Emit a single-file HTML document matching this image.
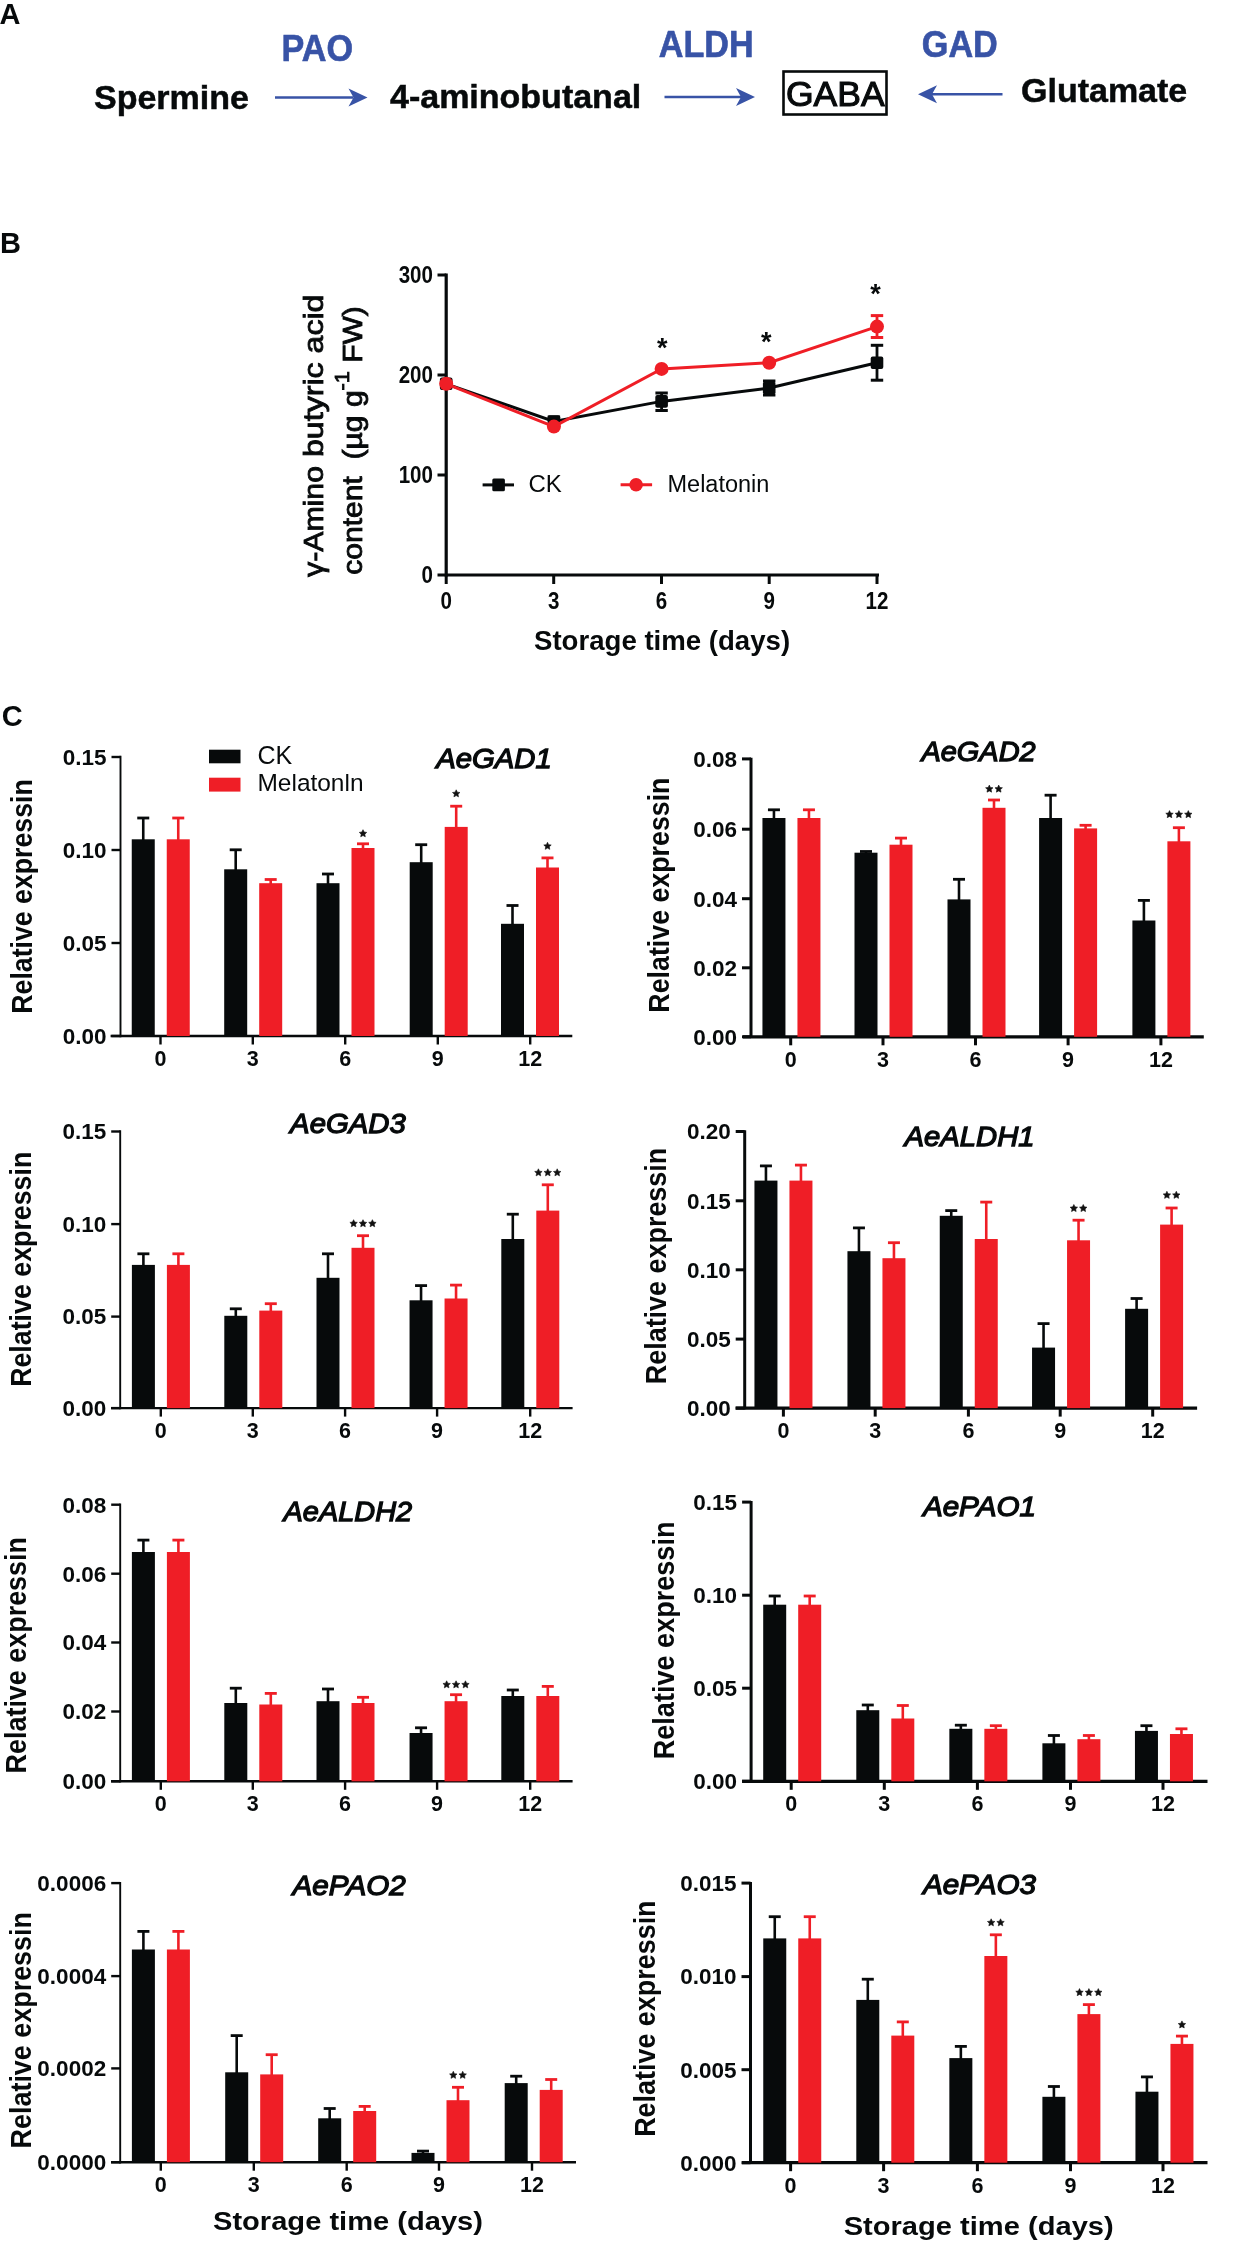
<!DOCTYPE html>
<html><head><meta charset="utf-8"><style>
html,body{margin:0;padding:0;background:#fff;}
svg{display:block;}
#wrap{will-change:transform;width:1238px;height:2242px;}
</style></head><body><div id="wrap">
<svg width="1238" height="2242" viewBox="0 0 1238 2242">
<rect width="1238" height="2242" fill="#fff"/>
<text x="-0.5" y="24" font-family='"Liberation Sans", sans-serif' font-size="29" font-weight="bold" font-style="normal" text-anchor="start" fill="#070a0b" >A</text>
<text x="94" y="109" font-family='"Liberation Sans", sans-serif' font-size="34" font-weight="bold" font-style="normal" text-anchor="start" fill="#070a0b" stroke="#070a0b" stroke-width="0.5">Spermine</text>
<text x="390" y="108" font-family='"Liberation Sans", sans-serif' font-size="34" font-weight="bold" font-style="normal" text-anchor="start" fill="#070a0b" stroke="#070a0b" stroke-width="0.5">4-aminobutanal</text>
<text x="1021" y="102" font-family='"Liberation Sans", sans-serif' font-size="34" font-weight="bold" font-style="normal" text-anchor="start" fill="#070a0b" stroke="#070a0b" stroke-width="0.5">Glutamate</text>
<g transform="translate(281.5 60.5) scale(1 1.09)"><text x="0" y="0" font-family='"Liberation Sans", sans-serif' font-size="34" font-weight="bold" fill="#3853a6" stroke="#3853a6" stroke-width="0.6" textLength="71.5" lengthAdjust="spacingAndGlyphs">PAO</text></g>
<g transform="translate(658.8 57) scale(1 1.09)"><text x="0" y="0" font-family='"Liberation Sans", sans-serif' font-size="34" font-weight="bold" fill="#3853a6" stroke="#3853a6" stroke-width="0.6" textLength="94.8" lengthAdjust="spacingAndGlyphs">ALDH</text></g>
<g transform="translate(921.8 56.8) scale(1 1.09)"><text x="0" y="0" font-family='"Liberation Sans", sans-serif' font-size="34" font-weight="bold" fill="#3853a6" stroke="#3853a6" stroke-width="0.6" textLength="76" lengthAdjust="spacingAndGlyphs">GAD</text></g>
<line x1="275" y1="97.5" x2="353.5" y2="97.5" stroke="#3853a6" stroke-width="2.6" stroke-linecap="butt"/>
<path d="M367.5,97.5 L348.5,88.5 L353.5,97.5 L348.5,106.5 Z" fill="#3853a6"/>
<line x1="664.5" y1="97" x2="741" y2="97" stroke="#3853a6" stroke-width="2.6" stroke-linecap="butt"/>
<path d="M755,97 L736,88 L741,97 L736,106 Z" fill="#3853a6"/>
<line x1="932" y1="94.3" x2="1002.5" y2="94.3" stroke="#3853a6" stroke-width="2.6" stroke-linecap="butt"/>
<path d="M918,94.3 L937,85.3 L932,94.3 L937,103.3 Z" fill="#3853a6"/>
<rect x="783.5" y="71.5" width="103" height="43" fill="none" stroke="#070a0b" stroke-width="2.6"/>
<text x="786" y="105.5" font-family='"Liberation Sans", sans-serif' font-size="35.5" font-weight="normal" font-style="normal" text-anchor="start" fill="#070a0b" stroke="#070a0b" stroke-width="1.1">GABA</text>
<text x="0" y="253" font-family='"Liberation Sans", sans-serif' font-size="29" font-weight="bold" font-style="normal" text-anchor="start" fill="#070a0b" >B</text>
<line x1="446.2" y1="273.5" x2="446.2" y2="576.6" stroke="#070a0b" stroke-width="3.2" stroke-linecap="butt"/>
<line x1="437.5" y1="275" x2="446.2" y2="275" stroke="#070a0b" stroke-width="3" stroke-linecap="butt"/>
<line x1="437.5" y1="375" x2="446.2" y2="375" stroke="#070a0b" stroke-width="3" stroke-linecap="butt"/>
<line x1="437.5" y1="475" x2="446.2" y2="475" stroke="#070a0b" stroke-width="3" stroke-linecap="butt"/>
<line x1="437.5" y1="575" x2="879" y2="575" stroke="#070a0b" stroke-width="3.2" stroke-linecap="butt"/>
<line x1="446.2" y1="575" x2="446.2" y2="584" stroke="#070a0b" stroke-width="3" stroke-linecap="butt"/>
<line x1="553.7" y1="575" x2="553.7" y2="584" stroke="#070a0b" stroke-width="3" stroke-linecap="butt"/>
<line x1="661.5" y1="575" x2="661.5" y2="584" stroke="#070a0b" stroke-width="3" stroke-linecap="butt"/>
<line x1="769.2" y1="575" x2="769.2" y2="584" stroke="#070a0b" stroke-width="3" stroke-linecap="butt"/>
<line x1="877" y1="575" x2="877" y2="584" stroke="#070a0b" stroke-width="3" stroke-linecap="butt"/>
<text x="433" y="283.5" font-family='"Liberation Sans", sans-serif' font-size="24.5" font-weight="bold" text-anchor="end" fill="#070a0b" transform="translate(433 0) scale(0.84 1) translate(-433 0)">300</text>
<text x="433" y="383.5" font-family='"Liberation Sans", sans-serif' font-size="24.5" font-weight="bold" text-anchor="end" fill="#070a0b" transform="translate(433 0) scale(0.84 1) translate(-433 0)">200</text>
<text x="433" y="483.5" font-family='"Liberation Sans", sans-serif' font-size="24.5" font-weight="bold" text-anchor="end" fill="#070a0b" transform="translate(433 0) scale(0.84 1) translate(-433 0)">100</text>
<text x="433" y="583.5" font-family='"Liberation Sans", sans-serif' font-size="24.5" font-weight="bold" text-anchor="end" fill="#070a0b" transform="translate(433 0) scale(0.84 1) translate(-433 0)">0</text>
<g transform="translate(446.2 608.6) scale(0.84 1)"><text x="0" y="0" font-family='"Liberation Sans", sans-serif' font-size="24.5" font-weight="bold" text-anchor="middle" fill="#070a0b">0</text></g>
<g transform="translate(553.7 608.6) scale(0.84 1)"><text x="0" y="0" font-family='"Liberation Sans", sans-serif' font-size="24.5" font-weight="bold" text-anchor="middle" fill="#070a0b">3</text></g>
<g transform="translate(661.5 608.6) scale(0.84 1)"><text x="0" y="0" font-family='"Liberation Sans", sans-serif' font-size="24.5" font-weight="bold" text-anchor="middle" fill="#070a0b">6</text></g>
<g transform="translate(769.2 608.6) scale(0.84 1)"><text x="0" y="0" font-family='"Liberation Sans", sans-serif' font-size="24.5" font-weight="bold" text-anchor="middle" fill="#070a0b">9</text></g>
<g transform="translate(877 608.6) scale(0.84 1)"><text x="0" y="0" font-family='"Liberation Sans", sans-serif' font-size="24.5" font-weight="bold" text-anchor="middle" fill="#070a0b">12</text></g>
<polyline points="446.2,383.8 553.9,421.5 661.6,401.4 769.2,388 877,362.7" fill="none" stroke="#070a0b" stroke-width="3"/>
<rect x="439.9" y="377.5" width="12.6" height="12.6" rx="2" fill="#070a0b"/>
<line x1="553.9" y1="417" x2="553.9" y2="426" stroke="#070a0b" stroke-width="2.8" stroke-linecap="butt"/>
<line x1="547.6999999999999" y1="417" x2="560.1" y2="417" stroke="#070a0b" stroke-width="3" stroke-linecap="butt"/>
<line x1="547.6999999999999" y1="426" x2="560.1" y2="426" stroke="#070a0b" stroke-width="3" stroke-linecap="butt"/>
<rect x="547.6" y="415.2" width="12.6" height="12.6" rx="2" fill="#070a0b"/>
<line x1="661.6" y1="393" x2="661.6" y2="410.5" stroke="#070a0b" stroke-width="2.8" stroke-linecap="butt"/>
<line x1="655.4" y1="393" x2="667.8000000000001" y2="393" stroke="#070a0b" stroke-width="3" stroke-linecap="butt"/>
<line x1="655.4" y1="410.5" x2="667.8000000000001" y2="410.5" stroke="#070a0b" stroke-width="3" stroke-linecap="butt"/>
<rect x="655.3000000000001" y="395.09999999999997" width="12.6" height="12.6" rx="2" fill="#070a0b"/>
<line x1="769.2" y1="381" x2="769.2" y2="395" stroke="#070a0b" stroke-width="2.8" stroke-linecap="butt"/>
<line x1="763.0" y1="381" x2="775.4000000000001" y2="381" stroke="#070a0b" stroke-width="3" stroke-linecap="butt"/>
<line x1="763.0" y1="395" x2="775.4000000000001" y2="395" stroke="#070a0b" stroke-width="3" stroke-linecap="butt"/>
<rect x="762.9000000000001" y="381.7" width="12.6" height="12.6" rx="2" fill="#070a0b"/>
<line x1="877" y1="345.3" x2="877" y2="380.2" stroke="#070a0b" stroke-width="2.8" stroke-linecap="butt"/>
<line x1="870.8" y1="345.3" x2="883.2" y2="345.3" stroke="#070a0b" stroke-width="3" stroke-linecap="butt"/>
<line x1="870.8" y1="380.2" x2="883.2" y2="380.2" stroke="#070a0b" stroke-width="3" stroke-linecap="butt"/>
<rect x="870.7" y="356.4" width="12.6" height="12.6" rx="2" fill="#070a0b"/>
<polyline points="446.2,383.8 553.9,426.6 661.6,368.9 769.2,362.7 877,326.6" fill="none" stroke="#ef1e26" stroke-width="3"/>
<circle cx="446.2" cy="383.8" r="7" fill="#ef1e26"/>
<circle cx="553.9" cy="426.6" r="7" fill="#ef1e26"/>
<circle cx="661.6" cy="368.9" r="7" fill="#ef1e26"/>
<circle cx="769.2" cy="362.7" r="7" fill="#ef1e26"/>
<line x1="877" y1="315.6" x2="877" y2="337.5" stroke="#ef1e26" stroke-width="2.8" stroke-linecap="butt"/>
<line x1="870.8" y1="315.6" x2="883.2" y2="315.6" stroke="#ef1e26" stroke-width="3" stroke-linecap="butt"/>
<line x1="870.8" y1="337.5" x2="883.2" y2="337.5" stroke="#ef1e26" stroke-width="3" stroke-linecap="butt"/>
<circle cx="877" cy="326.6" r="7" fill="#ef1e26"/>
<text x="662.3" y="356.9" font-family='"Liberation Sans", sans-serif' font-size="27" font-weight="bold" font-style="normal" text-anchor="middle" fill="#070a0b" >*</text>
<text x="766.2" y="351.2" font-family='"Liberation Sans", sans-serif' font-size="27" font-weight="bold" font-style="normal" text-anchor="middle" fill="#070a0b" >*</text>
<text x="875.6" y="303.4" font-family='"Liberation Sans", sans-serif' font-size="27" font-weight="bold" font-style="normal" text-anchor="middle" fill="#070a0b" >*</text>
<line x1="482.6" y1="484.9" x2="514" y2="484.9" stroke="#070a0b" stroke-width="3" stroke-linecap="butt"/>
<rect x="492.3" y="478.6" width="12.6" height="12.6" rx="1.5" fill="#070a0b"/>
<text x="528.5" y="491.7" font-family='"Liberation Sans", sans-serif' font-size="24" font-weight="normal" font-style="normal" text-anchor="start" fill="#070a0b" >CK</text>
<line x1="620.6" y1="484.8" x2="652.1" y2="484.8" stroke="#ef1e26" stroke-width="3" stroke-linecap="butt"/>
<circle cx="636.1" cy="484.8" r="6.8" fill="#ef1e26"/>
<text x="667.5" y="491.5" font-family='"Liberation Sans", sans-serif' font-size="23.5" font-weight="normal" font-style="normal" text-anchor="start" fill="#070a0b" >Melatonin</text>
<text transform="translate(322.5 577) rotate(-90)" x="0" y="0" font-family='"Liberation Sans", sans-serif' font-size="28.5" font-weight="normal" stroke="#070a0b" stroke-width="0.85" fill="#070a0b" textLength="111" lengthAdjust="spacingAndGlyphs">γ-Amino</text>
<text transform="translate(322.5 457) rotate(-90)" x="0" y="0" font-family='"Liberation Sans", sans-serif' font-size="28.5" font-weight="normal" stroke="#070a0b" stroke-width="0.85" fill="#070a0b" textLength="162.5" lengthAdjust="spacingAndGlyphs">butyric acid</text>
<text transform="translate(361.9 440.4) rotate(-90)" x="0" y="0" font-family='"Liberation Sans", sans-serif' font-size="28.5" font-weight="normal" stroke="#070a0b" stroke-width="0.85" text-anchor="middle" fill="#070a0b" textLength="268.5" lengthAdjust="spacingAndGlyphs">content&#160;&#160;(µg g<tspan dy="-12.5" font-size="20.5">-1</tspan><tspan dy="12.5">&#160;FW)</tspan></text>
<text x="534" y="650" font-family='"Liberation Sans", sans-serif' font-size="27.6" font-weight="bold" font-style="normal" text-anchor="start" fill="#070a0b" >Storage time (days)</text>
<text x="1.7" y="726" font-family='"Liberation Sans", sans-serif' font-size="29" font-weight="bold" font-style="normal" text-anchor="start" fill="#070a0b" >C</text>
<line x1="120.5" y1="755.8" x2="120.5" y2="1037.2" stroke="#070a0b" stroke-width="1.9" stroke-linecap="butt"/>
<line x1="111.5" y1="1036" x2="120.5" y2="1036" stroke="#070a0b" stroke-width="2.4" stroke-linecap="butt"/>
<text x="106.5" y="1043.8" font-family='"Liberation Sans", sans-serif' font-size="22.5" font-weight="bold" font-style="normal" text-anchor="end" fill="#070a0b" >0.00</text>
<line x1="111.5" y1="943" x2="120.5" y2="943" stroke="#070a0b" stroke-width="2.4" stroke-linecap="butt"/>
<text x="106.5" y="950.8" font-family='"Liberation Sans", sans-serif' font-size="22.5" font-weight="bold" font-style="normal" text-anchor="end" fill="#070a0b" >0.05</text>
<line x1="111.5" y1="850" x2="120.5" y2="850" stroke="#070a0b" stroke-width="2.4" stroke-linecap="butt"/>
<text x="106.5" y="857.8" font-family='"Liberation Sans", sans-serif' font-size="22.5" font-weight="bold" font-style="normal" text-anchor="end" fill="#070a0b" >0.10</text>
<line x1="111.5" y1="757" x2="120.5" y2="757" stroke="#070a0b" stroke-width="2.4" stroke-linecap="butt"/>
<text x="106.5" y="764.8" font-family='"Liberation Sans", sans-serif' font-size="22.5" font-weight="bold" font-style="normal" text-anchor="end" fill="#070a0b" >0.15</text>
<line x1="110.6" y1="1036" x2="572.3" y2="1036" stroke="#070a0b" stroke-width="2.4" stroke-linecap="butt"/>
<line x1="160.5" y1="1036" x2="160.5" y2="1044.5" stroke="#070a0b" stroke-width="2.4" stroke-linecap="butt"/>
<text x="160.5" y="1065.8" font-family='"Liberation Sans", sans-serif' font-size="21.5" font-weight="bold" font-style="normal" text-anchor="middle" fill="#070a0b" >0</text>
<line x1="252.8" y1="1036" x2="252.8" y2="1044.5" stroke="#070a0b" stroke-width="2.4" stroke-linecap="butt"/>
<text x="252.8" y="1065.8" font-family='"Liberation Sans", sans-serif' font-size="21.5" font-weight="bold" font-style="normal" text-anchor="middle" fill="#070a0b" >3</text>
<line x1="345.2" y1="1036" x2="345.2" y2="1044.5" stroke="#070a0b" stroke-width="2.4" stroke-linecap="butt"/>
<text x="345.2" y="1065.8" font-family='"Liberation Sans", sans-serif' font-size="21.5" font-weight="bold" font-style="normal" text-anchor="middle" fill="#070a0b" >6</text>
<line x1="437.8" y1="1036" x2="437.8" y2="1044.5" stroke="#070a0b" stroke-width="2.4" stroke-linecap="butt"/>
<text x="437.8" y="1065.8" font-family='"Liberation Sans", sans-serif' font-size="21.5" font-weight="bold" font-style="normal" text-anchor="middle" fill="#070a0b" >9</text>
<line x1="530.2" y1="1036" x2="530.2" y2="1044.5" stroke="#070a0b" stroke-width="2.4" stroke-linecap="butt"/>
<text x="530.2" y="1065.8" font-family='"Liberation Sans", sans-serif' font-size="21.5" font-weight="bold" font-style="normal" text-anchor="middle" fill="#070a0b" >12</text>
<line x1="143.25" y1="818" x2="143.25" y2="840.3" stroke="#070a0b" stroke-width="2.6" stroke-linecap="butt"/>
<line x1="137.25" y1="818" x2="149.25" y2="818" stroke="#070a0b" stroke-width="2.8" stroke-linecap="butt"/>
<rect x="131.75" y="839.30" width="23.00" height="196.70" fill="#070a0b"/>
<line x1="178.25" y1="818" x2="178.25" y2="840.3" stroke="#ef1e26" stroke-width="2.6" stroke-linecap="butt"/>
<line x1="172.25" y1="818" x2="184.25" y2="818" stroke="#ef1e26" stroke-width="2.8" stroke-linecap="butt"/>
<rect x="166.75" y="839.30" width="23.00" height="196.70" fill="#ef1e26"/>
<line x1="235.7" y1="849.8" x2="235.7" y2="870.3" stroke="#070a0b" stroke-width="2.6" stroke-linecap="butt"/>
<line x1="229.7" y1="849.8" x2="241.7" y2="849.8" stroke="#070a0b" stroke-width="2.8" stroke-linecap="butt"/>
<rect x="224.20" y="869.30" width="23.00" height="166.70" fill="#070a0b"/>
<line x1="270.7" y1="879.5" x2="270.7" y2="884.2" stroke="#ef1e26" stroke-width="2.6" stroke-linecap="butt"/>
<line x1="264.7" y1="879.5" x2="276.7" y2="879.5" stroke="#ef1e26" stroke-width="2.8" stroke-linecap="butt"/>
<rect x="259.20" y="883.20" width="23.00" height="152.80" fill="#ef1e26"/>
<line x1="328.0" y1="874" x2="328.0" y2="884.2" stroke="#070a0b" stroke-width="2.6" stroke-linecap="butt"/>
<line x1="322.0" y1="874" x2="334.0" y2="874" stroke="#070a0b" stroke-width="2.8" stroke-linecap="butt"/>
<rect x="316.50" y="883.20" width="23.00" height="152.80" fill="#070a0b"/>
<line x1="363.0" y1="843.8" x2="363.0" y2="849" stroke="#ef1e26" stroke-width="2.6" stroke-linecap="butt"/>
<line x1="357.0" y1="843.8" x2="369.0" y2="843.8" stroke="#ef1e26" stroke-width="2.8" stroke-linecap="butt"/>
<rect x="351.50" y="848.00" width="23.00" height="188.00" fill="#ef1e26"/>
<line x1="421.2" y1="844.7" x2="421.2" y2="863.2" stroke="#070a0b" stroke-width="2.6" stroke-linecap="butt"/>
<line x1="415.2" y1="844.7" x2="427.2" y2="844.7" stroke="#070a0b" stroke-width="2.8" stroke-linecap="butt"/>
<rect x="409.70" y="862.20" width="23.00" height="173.80" fill="#070a0b"/>
<line x1="456.2" y1="806.2" x2="456.2" y2="827.9" stroke="#ef1e26" stroke-width="2.6" stroke-linecap="butt"/>
<line x1="450.2" y1="806.2" x2="462.2" y2="806.2" stroke="#ef1e26" stroke-width="2.8" stroke-linecap="butt"/>
<rect x="444.70" y="826.90" width="23.00" height="209.10" fill="#ef1e26"/>
<line x1="512.5" y1="905.5" x2="512.5" y2="924.8" stroke="#070a0b" stroke-width="2.6" stroke-linecap="butt"/>
<line x1="506.5" y1="905.5" x2="518.5" y2="905.5" stroke="#070a0b" stroke-width="2.8" stroke-linecap="butt"/>
<rect x="501.00" y="923.80" width="23.00" height="112.20" fill="#070a0b"/>
<line x1="547.5" y1="857.9" x2="547.5" y2="868.5" stroke="#ef1e26" stroke-width="2.6" stroke-linecap="butt"/>
<line x1="541.5" y1="857.9" x2="553.5" y2="857.9" stroke="#ef1e26" stroke-width="2.8" stroke-linecap="butt"/>
<rect x="536.00" y="867.50" width="23.00" height="168.50" fill="#ef1e26"/>
<polygon points="363.00,829.70 364.12,832.06 366.71,832.39 364.81,834.19 365.29,836.76 363.00,835.50 360.71,836.76 361.19,834.19 359.29,832.39 361.88,832.06" fill="#111" stroke="#111" stroke-width="0.6" stroke-linejoin="round"/>
<polygon points="456.20,789.80 457.32,792.16 459.91,792.49 458.01,794.29 458.49,796.86 456.20,795.60 453.91,796.86 454.39,794.29 452.49,792.49 455.08,792.16" fill="#111" stroke="#111" stroke-width="0.6" stroke-linejoin="round"/>
<polygon points="547.50,842.30 548.62,844.66 551.21,844.99 549.31,846.79 549.79,849.36 547.50,848.10 545.21,849.36 545.69,846.79 543.79,844.99 546.38,844.66" fill="#111" stroke="#111" stroke-width="0.6" stroke-linejoin="round"/>
<text x="436.3" y="767.5" font-family='"Liberation Sans", sans-serif' font-size="28.5" font-weight="normal" font-style="italic" fill="#070a0b" stroke="#070a0b" stroke-width="1.3" textLength="115.5" lengthAdjust="spacingAndGlyphs">AeGAD1</text>
<text transform="translate(32.3 896.5) rotate(-90)" x="0" y="0" font-family='"Liberation Sans", sans-serif' font-size="29.5" font-weight="bold" text-anchor="middle" fill="#070a0b" textLength="234.5" lengthAdjust="spacingAndGlyphs">Relative expressin</text>
<line x1="751" y1="757.6999999999999" x2="751" y2="1038.0" stroke="#070a0b" stroke-width="3.0" stroke-linecap="butt"/>
<line x1="742" y1="1036.8" x2="751" y2="1036.8" stroke="#070a0b" stroke-width="3.0" stroke-linecap="butt"/>
<text x="737" y="1044.6" font-family='"Liberation Sans", sans-serif' font-size="22.5" font-weight="bold" font-style="normal" text-anchor="end" fill="#070a0b" >0.00</text>
<line x1="742" y1="967.8" x2="751" y2="967.8" stroke="#070a0b" stroke-width="3.0" stroke-linecap="butt"/>
<text x="737" y="975.5999999999999" font-family='"Liberation Sans", sans-serif' font-size="22.5" font-weight="bold" font-style="normal" text-anchor="end" fill="#070a0b" >0.02</text>
<line x1="742" y1="898.7" x2="751" y2="898.7" stroke="#070a0b" stroke-width="3.0" stroke-linecap="butt"/>
<text x="737" y="906.5" font-family='"Liberation Sans", sans-serif' font-size="22.5" font-weight="bold" font-style="normal" text-anchor="end" fill="#070a0b" >0.04</text>
<line x1="742" y1="829.2" x2="751" y2="829.2" stroke="#070a0b" stroke-width="3.0" stroke-linecap="butt"/>
<text x="737" y="837.0" font-family='"Liberation Sans", sans-serif' font-size="22.5" font-weight="bold" font-style="normal" text-anchor="end" fill="#070a0b" >0.06</text>
<line x1="742" y1="758.9" x2="751" y2="758.9" stroke="#070a0b" stroke-width="3.0" stroke-linecap="butt"/>
<text x="737" y="766.6999999999999" font-family='"Liberation Sans", sans-serif' font-size="22.5" font-weight="bold" font-style="normal" text-anchor="end" fill="#070a0b" >0.08</text>
<line x1="743" y1="1036.8" x2="1203.8" y2="1036.8" stroke="#070a0b" stroke-width="3.3" stroke-linecap="butt"/>
<line x1="790.7" y1="1036.8" x2="790.7" y2="1045.3" stroke="#070a0b" stroke-width="3.0" stroke-linecap="butt"/>
<text x="790.7" y="1066.6" font-family='"Liberation Sans", sans-serif' font-size="21.5" font-weight="bold" font-style="normal" text-anchor="middle" fill="#070a0b" >0</text>
<line x1="883" y1="1036.8" x2="883" y2="1045.3" stroke="#070a0b" stroke-width="3.0" stroke-linecap="butt"/>
<text x="883" y="1066.6" font-family='"Liberation Sans", sans-serif' font-size="21.5" font-weight="bold" font-style="normal" text-anchor="middle" fill="#070a0b" >3</text>
<line x1="975.5" y1="1036.8" x2="975.5" y2="1045.3" stroke="#070a0b" stroke-width="3.0" stroke-linecap="butt"/>
<text x="975.5" y="1066.6" font-family='"Liberation Sans", sans-serif' font-size="21.5" font-weight="bold" font-style="normal" text-anchor="middle" fill="#070a0b" >6</text>
<line x1="1068.1" y1="1036.8" x2="1068.1" y2="1045.3" stroke="#070a0b" stroke-width="3.0" stroke-linecap="butt"/>
<text x="1068.1" y="1066.6" font-family='"Liberation Sans", sans-serif' font-size="21.5" font-weight="bold" font-style="normal" text-anchor="middle" fill="#070a0b" >9</text>
<line x1="1160.9" y1="1036.8" x2="1160.9" y2="1045.3" stroke="#070a0b" stroke-width="3.0" stroke-linecap="butt"/>
<text x="1160.9" y="1066.6" font-family='"Liberation Sans", sans-serif' font-size="21.5" font-weight="bold" font-style="normal" text-anchor="middle" fill="#070a0b" >12</text>
<line x1="773.95" y1="809.8" x2="773.95" y2="819" stroke="#070a0b" stroke-width="2.6" stroke-linecap="butt"/>
<line x1="767.95" y1="809.8" x2="779.95" y2="809.8" stroke="#070a0b" stroke-width="2.8" stroke-linecap="butt"/>
<rect x="762.45" y="818.00" width="23.00" height="218.80" fill="#070a0b"/>
<line x1="808.95" y1="809.8" x2="808.95" y2="819" stroke="#ef1e26" stroke-width="2.6" stroke-linecap="butt"/>
<line x1="802.95" y1="809.8" x2="814.95" y2="809.8" stroke="#ef1e26" stroke-width="2.8" stroke-linecap="butt"/>
<rect x="797.45" y="818.00" width="23.00" height="218.80" fill="#ef1e26"/>
<line x1="866.0" y1="851.5" x2="866.0" y2="853.7" stroke="#070a0b" stroke-width="2.6" stroke-linecap="butt"/>
<line x1="860.0" y1="851.5" x2="872.0" y2="851.5" stroke="#070a0b" stroke-width="2.8" stroke-linecap="butt"/>
<rect x="854.50" y="852.70" width="23.00" height="184.10" fill="#070a0b"/>
<line x1="901.0" y1="838.1" x2="901.0" y2="845.7" stroke="#ef1e26" stroke-width="2.6" stroke-linecap="butt"/>
<line x1="895.0" y1="838.1" x2="907.0" y2="838.1" stroke="#ef1e26" stroke-width="2.8" stroke-linecap="butt"/>
<rect x="889.50" y="844.70" width="23.00" height="192.10" fill="#ef1e26"/>
<line x1="959.0" y1="879.3" x2="959.0" y2="900.4" stroke="#070a0b" stroke-width="2.6" stroke-linecap="butt"/>
<line x1="953.0" y1="879.3" x2="965.0" y2="879.3" stroke="#070a0b" stroke-width="2.8" stroke-linecap="butt"/>
<rect x="947.50" y="899.40" width="23.00" height="137.40" fill="#070a0b"/>
<line x1="994.0" y1="800" x2="994.0" y2="808.8" stroke="#ef1e26" stroke-width="2.6" stroke-linecap="butt"/>
<line x1="988.0" y1="800" x2="1000.0" y2="800" stroke="#ef1e26" stroke-width="2.8" stroke-linecap="butt"/>
<rect x="982.50" y="807.80" width="23.00" height="229.00" fill="#ef1e26"/>
<line x1="1050.6" y1="795.2" x2="1050.6" y2="819" stroke="#070a0b" stroke-width="2.6" stroke-linecap="butt"/>
<line x1="1044.6" y1="795.2" x2="1056.6" y2="795.2" stroke="#070a0b" stroke-width="2.8" stroke-linecap="butt"/>
<rect x="1039.10" y="818.00" width="23.00" height="218.80" fill="#070a0b"/>
<line x1="1085.6" y1="825.3" x2="1085.6" y2="829.4" stroke="#ef1e26" stroke-width="2.6" stroke-linecap="butt"/>
<line x1="1079.6" y1="825.3" x2="1091.6" y2="825.3" stroke="#ef1e26" stroke-width="2.8" stroke-linecap="butt"/>
<rect x="1074.10" y="828.40" width="23.00" height="208.40" fill="#ef1e26"/>
<line x1="1143.9" y1="900.4" x2="1143.9" y2="921.5" stroke="#070a0b" stroke-width="2.6" stroke-linecap="butt"/>
<line x1="1137.9" y1="900.4" x2="1149.9" y2="900.4" stroke="#070a0b" stroke-width="2.8" stroke-linecap="butt"/>
<rect x="1132.40" y="920.50" width="23.00" height="116.30" fill="#070a0b"/>
<line x1="1178.9" y1="827.7" x2="1178.9" y2="842.3" stroke="#ef1e26" stroke-width="2.6" stroke-linecap="butt"/>
<line x1="1172.9" y1="827.7" x2="1184.9" y2="827.7" stroke="#ef1e26" stroke-width="2.8" stroke-linecap="butt"/>
<rect x="1167.40" y="841.30" width="23.00" height="195.50" fill="#ef1e26"/>
<polygon points="989.30,785.10 990.42,787.46 993.01,787.79 991.11,789.59 991.59,792.16 989.30,790.90 987.01,792.16 987.49,789.59 985.59,787.79 988.18,787.46" fill="#111" stroke="#111" stroke-width="0.6" stroke-linejoin="round"/>
<polygon points="998.70,785.10 999.82,787.46 1002.41,787.79 1000.51,789.59 1000.99,792.16 998.70,790.90 996.41,792.16 996.89,789.59 994.99,787.79 997.58,787.46" fill="#111" stroke="#111" stroke-width="0.6" stroke-linejoin="round"/>
<polygon points="1169.50,810.60 1170.62,812.96 1173.21,813.29 1171.31,815.09 1171.79,817.66 1169.50,816.40 1167.21,817.66 1167.69,815.09 1165.79,813.29 1168.38,812.96" fill="#111" stroke="#111" stroke-width="0.6" stroke-linejoin="round"/>
<polygon points="1178.90,810.60 1180.02,812.96 1182.61,813.29 1180.71,815.09 1181.19,817.66 1178.90,816.40 1176.61,817.66 1177.09,815.09 1175.19,813.29 1177.78,812.96" fill="#111" stroke="#111" stroke-width="0.6" stroke-linejoin="round"/>
<polygon points="1188.30,810.60 1189.42,812.96 1192.01,813.29 1190.11,815.09 1190.59,817.66 1188.30,816.40 1186.01,817.66 1186.49,815.09 1184.59,813.29 1187.18,812.96" fill="#111" stroke="#111" stroke-width="0.6" stroke-linejoin="round"/>
<text x="921.5" y="761.2" font-family='"Liberation Sans", sans-serif' font-size="28.5" font-weight="normal" font-style="italic" fill="#070a0b" stroke="#070a0b" stroke-width="1.3" textLength="114.09999999999991" lengthAdjust="spacingAndGlyphs">AeGAD2</text>
<text transform="translate(668.9 895.0999999999999) rotate(-90)" x="0" y="0" font-family='"Liberation Sans", sans-serif' font-size="29.5" font-weight="bold" text-anchor="middle" fill="#070a0b" textLength="235.10000000000002" lengthAdjust="spacingAndGlyphs">Relative expressin</text>
<line x1="120.2" y1="1130.3" x2="120.2" y2="1409.3" stroke="#070a0b" stroke-width="1.9" stroke-linecap="butt"/>
<line x1="111.2" y1="1408.1" x2="120.2" y2="1408.1" stroke="#070a0b" stroke-width="2.4" stroke-linecap="butt"/>
<text x="106.2" y="1415.8999999999999" font-family='"Liberation Sans", sans-serif' font-size="22.5" font-weight="bold" font-style="normal" text-anchor="end" fill="#070a0b" >0.00</text>
<line x1="111.2" y1="1316.6" x2="120.2" y2="1316.6" stroke="#070a0b" stroke-width="2.4" stroke-linecap="butt"/>
<text x="106.2" y="1324.3999999999999" font-family='"Liberation Sans", sans-serif' font-size="22.5" font-weight="bold" font-style="normal" text-anchor="end" fill="#070a0b" >0.05</text>
<line x1="111.2" y1="1224.1" x2="120.2" y2="1224.1" stroke="#070a0b" stroke-width="2.4" stroke-linecap="butt"/>
<text x="106.2" y="1231.8999999999999" font-family='"Liberation Sans", sans-serif' font-size="22.5" font-weight="bold" font-style="normal" text-anchor="end" fill="#070a0b" >0.10</text>
<line x1="111.2" y1="1131.5" x2="120.2" y2="1131.5" stroke="#070a0b" stroke-width="2.4" stroke-linecap="butt"/>
<text x="106.2" y="1139.3" font-family='"Liberation Sans", sans-serif' font-size="22.5" font-weight="bold" font-style="normal" text-anchor="end" fill="#070a0b" >0.15</text>
<line x1="111" y1="1408.1" x2="572.6" y2="1408.1" stroke="#070a0b" stroke-width="2.4" stroke-linecap="butt"/>
<line x1="160.8" y1="1408.1" x2="160.8" y2="1416.6" stroke="#070a0b" stroke-width="2.4" stroke-linecap="butt"/>
<text x="160.8" y="1437.8999999999999" font-family='"Liberation Sans", sans-serif' font-size="21.5" font-weight="bold" font-style="normal" text-anchor="middle" fill="#070a0b" >0</text>
<line x1="252.8" y1="1408.1" x2="252.8" y2="1416.6" stroke="#070a0b" stroke-width="2.4" stroke-linecap="butt"/>
<text x="252.8" y="1437.8999999999999" font-family='"Liberation Sans", sans-serif' font-size="21.5" font-weight="bold" font-style="normal" text-anchor="middle" fill="#070a0b" >3</text>
<line x1="345.1" y1="1408.1" x2="345.1" y2="1416.6" stroke="#070a0b" stroke-width="2.4" stroke-linecap="butt"/>
<text x="345.1" y="1437.8999999999999" font-family='"Liberation Sans", sans-serif' font-size="21.5" font-weight="bold" font-style="normal" text-anchor="middle" fill="#070a0b" >6</text>
<line x1="437.1" y1="1408.1" x2="437.1" y2="1416.6" stroke="#070a0b" stroke-width="2.4" stroke-linecap="butt"/>
<text x="437.1" y="1437.8999999999999" font-family='"Liberation Sans", sans-serif' font-size="21.5" font-weight="bold" font-style="normal" text-anchor="middle" fill="#070a0b" >9</text>
<line x1="530.2" y1="1408.1" x2="530.2" y2="1416.6" stroke="#070a0b" stroke-width="2.4" stroke-linecap="butt"/>
<text x="530.2" y="1437.8999999999999" font-family='"Liberation Sans", sans-serif' font-size="21.5" font-weight="bold" font-style="normal" text-anchor="middle" fill="#070a0b" >12</text>
<line x1="143.4" y1="1253.8" x2="143.4" y2="1265.9" stroke="#070a0b" stroke-width="2.6" stroke-linecap="butt"/>
<line x1="137.4" y1="1253.8" x2="149.4" y2="1253.8" stroke="#070a0b" stroke-width="2.8" stroke-linecap="butt"/>
<rect x="131.90" y="1264.90" width="23.00" height="143.20" fill="#070a0b"/>
<line x1="178.4" y1="1253.8" x2="178.4" y2="1265.9" stroke="#ef1e26" stroke-width="2.6" stroke-linecap="butt"/>
<line x1="172.4" y1="1253.8" x2="184.4" y2="1253.8" stroke="#ef1e26" stroke-width="2.8" stroke-linecap="butt"/>
<rect x="166.90" y="1264.90" width="23.00" height="143.20" fill="#ef1e26"/>
<line x1="235.8" y1="1308.8" x2="235.8" y2="1316.8" stroke="#070a0b" stroke-width="2.6" stroke-linecap="butt"/>
<line x1="229.8" y1="1308.8" x2="241.8" y2="1308.8" stroke="#070a0b" stroke-width="2.8" stroke-linecap="butt"/>
<rect x="224.30" y="1315.80" width="23.00" height="92.30" fill="#070a0b"/>
<line x1="270.8" y1="1303.7" x2="270.8" y2="1311.6" stroke="#ef1e26" stroke-width="2.6" stroke-linecap="butt"/>
<line x1="264.8" y1="1303.7" x2="276.8" y2="1303.7" stroke="#ef1e26" stroke-width="2.8" stroke-linecap="butt"/>
<rect x="259.30" y="1310.60" width="23.00" height="97.50" fill="#ef1e26"/>
<line x1="328.0" y1="1253.8" x2="328.0" y2="1278.8" stroke="#070a0b" stroke-width="2.6" stroke-linecap="butt"/>
<line x1="322.0" y1="1253.8" x2="334.0" y2="1253.8" stroke="#070a0b" stroke-width="2.8" stroke-linecap="butt"/>
<rect x="316.50" y="1277.80" width="23.00" height="130.30" fill="#070a0b"/>
<line x1="363.0" y1="1235.7" x2="363.0" y2="1248.8" stroke="#ef1e26" stroke-width="2.6" stroke-linecap="butt"/>
<line x1="357.0" y1="1235.7" x2="369.0" y2="1235.7" stroke="#ef1e26" stroke-width="2.8" stroke-linecap="butt"/>
<rect x="351.50" y="1247.80" width="23.00" height="160.30" fill="#ef1e26"/>
<line x1="421.05" y1="1285.6" x2="421.05" y2="1301.3" stroke="#070a0b" stroke-width="2.6" stroke-linecap="butt"/>
<line x1="415.05" y1="1285.6" x2="427.05" y2="1285.6" stroke="#070a0b" stroke-width="2.8" stroke-linecap="butt"/>
<rect x="409.55" y="1300.30" width="23.00" height="107.80" fill="#070a0b"/>
<line x1="456.05" y1="1285.1" x2="456.05" y2="1299.5" stroke="#ef1e26" stroke-width="2.6" stroke-linecap="butt"/>
<line x1="450.05" y1="1285.1" x2="462.05" y2="1285.1" stroke="#ef1e26" stroke-width="2.8" stroke-linecap="butt"/>
<rect x="444.55" y="1298.50" width="23.00" height="109.60" fill="#ef1e26"/>
<line x1="512.8" y1="1214.2" x2="512.8" y2="1240" stroke="#070a0b" stroke-width="2.6" stroke-linecap="butt"/>
<line x1="506.79999999999995" y1="1214.2" x2="518.8" y2="1214.2" stroke="#070a0b" stroke-width="2.8" stroke-linecap="butt"/>
<rect x="501.30" y="1239.00" width="23.00" height="169.10" fill="#070a0b"/>
<line x1="547.8" y1="1184.8" x2="547.8" y2="1211.6" stroke="#ef1e26" stroke-width="2.6" stroke-linecap="butt"/>
<line x1="541.8" y1="1184.8" x2="553.8" y2="1184.8" stroke="#ef1e26" stroke-width="2.8" stroke-linecap="butt"/>
<rect x="536.30" y="1210.60" width="23.00" height="197.50" fill="#ef1e26"/>
<polygon points="353.60,1219.70 354.72,1222.06 357.31,1222.39 355.41,1224.19 355.89,1226.76 353.60,1225.50 351.31,1226.76 351.79,1224.19 349.89,1222.39 352.48,1222.06" fill="#111" stroke="#111" stroke-width="0.6" stroke-linejoin="round"/>
<polygon points="363.00,1219.70 364.12,1222.06 366.71,1222.39 364.81,1224.19 365.29,1226.76 363.00,1225.50 360.71,1226.76 361.19,1224.19 359.29,1222.39 361.88,1222.06" fill="#111" stroke="#111" stroke-width="0.6" stroke-linejoin="round"/>
<polygon points="372.40,1219.70 373.52,1222.06 376.11,1222.39 374.21,1224.19 374.69,1226.76 372.40,1225.50 370.11,1226.76 370.59,1224.19 368.69,1222.39 371.28,1222.06" fill="#111" stroke="#111" stroke-width="0.6" stroke-linejoin="round"/>
<polygon points="538.40,1168.80 539.52,1171.16 542.11,1171.49 540.21,1173.29 540.69,1175.86 538.40,1174.60 536.11,1175.86 536.59,1173.29 534.69,1171.49 537.28,1171.16" fill="#111" stroke="#111" stroke-width="0.6" stroke-linejoin="round"/>
<polygon points="547.80,1168.80 548.92,1171.16 551.51,1171.49 549.61,1173.29 550.09,1175.86 547.80,1174.60 545.51,1175.86 545.99,1173.29 544.09,1171.49 546.68,1171.16" fill="#111" stroke="#111" stroke-width="0.6" stroke-linejoin="round"/>
<polygon points="557.20,1168.80 558.32,1171.16 560.91,1171.49 559.01,1173.29 559.49,1175.86 557.20,1174.60 554.91,1175.86 555.39,1173.29 553.49,1171.49 556.08,1171.16" fill="#111" stroke="#111" stroke-width="0.6" stroke-linejoin="round"/>
<text x="290.1" y="1132.8" font-family='"Liberation Sans", sans-serif' font-size="28.5" font-weight="normal" font-style="italic" fill="#070a0b" stroke="#070a0b" stroke-width="1.3" textLength="115.59999999999997" lengthAdjust="spacingAndGlyphs">AeGAD3</text>
<text transform="translate(30.7 1269.3) rotate(-90)" x="0" y="0" font-family='"Liberation Sans", sans-serif' font-size="29.5" font-weight="bold" text-anchor="middle" fill="#070a0b" textLength="235.0999999999999" lengthAdjust="spacingAndGlyphs">Relative expressin</text>
<line x1="744.7" y1="1130.3" x2="744.7" y2="1409.3" stroke="#070a0b" stroke-width="3.0" stroke-linecap="butt"/>
<line x1="735.7" y1="1408.1" x2="744.7" y2="1408.1" stroke="#070a0b" stroke-width="3.0" stroke-linecap="butt"/>
<text x="730.7" y="1415.8999999999999" font-family='"Liberation Sans", sans-serif' font-size="22.5" font-weight="bold" font-style="normal" text-anchor="end" fill="#070a0b" >0.00</text>
<line x1="735.7" y1="1339.1" x2="744.7" y2="1339.1" stroke="#070a0b" stroke-width="3.0" stroke-linecap="butt"/>
<text x="730.7" y="1346.8999999999999" font-family='"Liberation Sans", sans-serif' font-size="22.5" font-weight="bold" font-style="normal" text-anchor="end" fill="#070a0b" >0.05</text>
<line x1="735.7" y1="1269.8" x2="744.7" y2="1269.8" stroke="#070a0b" stroke-width="3.0" stroke-linecap="butt"/>
<text x="730.7" y="1277.6" font-family='"Liberation Sans", sans-serif' font-size="22.5" font-weight="bold" font-style="normal" text-anchor="end" fill="#070a0b" >0.10</text>
<line x1="735.7" y1="1200.8" x2="744.7" y2="1200.8" stroke="#070a0b" stroke-width="3.0" stroke-linecap="butt"/>
<text x="730.7" y="1208.6" font-family='"Liberation Sans", sans-serif' font-size="22.5" font-weight="bold" font-style="normal" text-anchor="end" fill="#070a0b" >0.15</text>
<line x1="735.7" y1="1131.5" x2="744.7" y2="1131.5" stroke="#070a0b" stroke-width="3.0" stroke-linecap="butt"/>
<text x="730.7" y="1139.3" font-family='"Liberation Sans", sans-serif' font-size="22.5" font-weight="bold" font-style="normal" text-anchor="end" fill="#070a0b" >0.20</text>
<line x1="735.6" y1="1408.1" x2="1197.1" y2="1408.1" stroke="#070a0b" stroke-width="3.3" stroke-linecap="butt"/>
<line x1="783.4" y1="1408.1" x2="783.4" y2="1416.6" stroke="#070a0b" stroke-width="3.0" stroke-linecap="butt"/>
<text x="783.4" y="1437.8999999999999" font-family='"Liberation Sans", sans-serif' font-size="21.5" font-weight="bold" font-style="normal" text-anchor="middle" fill="#070a0b" >0</text>
<line x1="875.2" y1="1408.1" x2="875.2" y2="1416.6" stroke="#070a0b" stroke-width="3.0" stroke-linecap="butt"/>
<text x="875.2" y="1437.8999999999999" font-family='"Liberation Sans", sans-serif' font-size="21.5" font-weight="bold" font-style="normal" text-anchor="middle" fill="#070a0b" >3</text>
<line x1="968.4" y1="1408.1" x2="968.4" y2="1416.6" stroke="#070a0b" stroke-width="3.0" stroke-linecap="butt"/>
<text x="968.4" y="1437.8999999999999" font-family='"Liberation Sans", sans-serif' font-size="21.5" font-weight="bold" font-style="normal" text-anchor="middle" fill="#070a0b" >6</text>
<line x1="1060.2" y1="1408.1" x2="1060.2" y2="1416.6" stroke="#070a0b" stroke-width="3.0" stroke-linecap="butt"/>
<text x="1060.2" y="1437.8999999999999" font-family='"Liberation Sans", sans-serif' font-size="21.5" font-weight="bold" font-style="normal" text-anchor="middle" fill="#070a0b" >9</text>
<line x1="1152.7" y1="1408.1" x2="1152.7" y2="1416.6" stroke="#070a0b" stroke-width="3.0" stroke-linecap="butt"/>
<text x="1152.7" y="1437.8999999999999" font-family='"Liberation Sans", sans-serif' font-size="21.5" font-weight="bold" font-style="normal" text-anchor="middle" fill="#070a0b" >12</text>
<line x1="765.95" y1="1165.9" x2="765.95" y2="1181.6" stroke="#070a0b" stroke-width="2.6" stroke-linecap="butt"/>
<line x1="759.95" y1="1165.9" x2="771.95" y2="1165.9" stroke="#070a0b" stroke-width="2.8" stroke-linecap="butt"/>
<rect x="754.45" y="1180.60" width="23.00" height="227.50" fill="#070a0b"/>
<line x1="800.95" y1="1165.1" x2="800.95" y2="1181.6" stroke="#ef1e26" stroke-width="2.6" stroke-linecap="butt"/>
<line x1="794.95" y1="1165.1" x2="806.95" y2="1165.1" stroke="#ef1e26" stroke-width="2.8" stroke-linecap="butt"/>
<rect x="789.45" y="1180.60" width="23.00" height="227.50" fill="#ef1e26"/>
<line x1="858.95" y1="1227.9" x2="858.95" y2="1252.2" stroke="#070a0b" stroke-width="2.6" stroke-linecap="butt"/>
<line x1="852.95" y1="1227.9" x2="864.95" y2="1227.9" stroke="#070a0b" stroke-width="2.8" stroke-linecap="butt"/>
<rect x="847.45" y="1251.20" width="23.00" height="156.90" fill="#070a0b"/>
<line x1="893.95" y1="1242.7" x2="893.95" y2="1259.2" stroke="#ef1e26" stroke-width="2.6" stroke-linecap="butt"/>
<line x1="887.95" y1="1242.7" x2="899.95" y2="1242.7" stroke="#ef1e26" stroke-width="2.8" stroke-linecap="butt"/>
<rect x="882.45" y="1258.20" width="23.00" height="149.90" fill="#ef1e26"/>
<line x1="951.25" y1="1210.6" x2="951.25" y2="1216.8" stroke="#070a0b" stroke-width="2.6" stroke-linecap="butt"/>
<line x1="945.25" y1="1210.6" x2="957.25" y2="1210.6" stroke="#070a0b" stroke-width="2.8" stroke-linecap="butt"/>
<rect x="939.75" y="1215.80" width="23.00" height="192.30" fill="#070a0b"/>
<line x1="986.25" y1="1202.1" x2="986.25" y2="1240" stroke="#ef1e26" stroke-width="2.6" stroke-linecap="butt"/>
<line x1="980.25" y1="1202.1" x2="992.25" y2="1202.1" stroke="#ef1e26" stroke-width="2.8" stroke-linecap="butt"/>
<rect x="974.75" y="1239.00" width="23.00" height="169.10" fill="#ef1e26"/>
<line x1="1043.55" y1="1323.6" x2="1043.55" y2="1348.6" stroke="#070a0b" stroke-width="2.6" stroke-linecap="butt"/>
<line x1="1037.55" y1="1323.6" x2="1049.55" y2="1323.6" stroke="#070a0b" stroke-width="2.8" stroke-linecap="butt"/>
<rect x="1032.05" y="1347.60" width="23.00" height="60.50" fill="#070a0b"/>
<line x1="1078.55" y1="1220.2" x2="1078.55" y2="1241.3" stroke="#ef1e26" stroke-width="2.6" stroke-linecap="butt"/>
<line x1="1072.55" y1="1220.2" x2="1084.55" y2="1220.2" stroke="#ef1e26" stroke-width="2.8" stroke-linecap="butt"/>
<rect x="1067.05" y="1240.30" width="23.00" height="167.80" fill="#ef1e26"/>
<line x1="1136.6" y1="1298.5" x2="1136.6" y2="1309.8" stroke="#070a0b" stroke-width="2.6" stroke-linecap="butt"/>
<line x1="1130.6" y1="1298.5" x2="1142.6" y2="1298.5" stroke="#070a0b" stroke-width="2.8" stroke-linecap="butt"/>
<rect x="1125.10" y="1308.80" width="23.00" height="99.30" fill="#070a0b"/>
<line x1="1171.6" y1="1208" x2="1171.6" y2="1225.6" stroke="#ef1e26" stroke-width="2.6" stroke-linecap="butt"/>
<line x1="1165.6" y1="1208" x2="1177.6" y2="1208" stroke="#ef1e26" stroke-width="2.8" stroke-linecap="butt"/>
<rect x="1160.10" y="1224.60" width="23.00" height="183.50" fill="#ef1e26"/>
<polygon points="1073.85,1204.50 1074.97,1206.86 1077.56,1207.19 1075.66,1208.99 1076.14,1211.56 1073.85,1210.30 1071.56,1211.56 1072.04,1208.99 1070.14,1207.19 1072.73,1206.86" fill="#111" stroke="#111" stroke-width="0.6" stroke-linejoin="round"/>
<polygon points="1083.25,1204.50 1084.37,1206.86 1086.96,1207.19 1085.06,1208.99 1085.54,1211.56 1083.25,1210.30 1080.96,1211.56 1081.44,1208.99 1079.54,1207.19 1082.13,1206.86" fill="#111" stroke="#111" stroke-width="0.6" stroke-linejoin="round"/>
<polygon points="1166.90,1191.30 1168.02,1193.66 1170.61,1193.99 1168.71,1195.79 1169.19,1198.36 1166.90,1197.10 1164.61,1198.36 1165.09,1195.79 1163.19,1193.99 1165.78,1193.66" fill="#111" stroke="#111" stroke-width="0.6" stroke-linejoin="round"/>
<polygon points="1176.30,1191.30 1177.42,1193.66 1180.01,1193.99 1178.11,1195.79 1178.59,1198.36 1176.30,1197.10 1174.01,1198.36 1174.49,1195.79 1172.59,1193.99 1175.18,1193.66" fill="#111" stroke="#111" stroke-width="0.6" stroke-linejoin="round"/>
<text x="904.5999999999999" y="1145.7" font-family='"Liberation Sans", sans-serif' font-size="28.5" font-weight="normal" font-style="italic" fill="#070a0b" stroke="#070a0b" stroke-width="1.3" textLength="130.0" lengthAdjust="spacingAndGlyphs">AeALDH1</text>
<text transform="translate(665.6 1266.0) rotate(-90)" x="0" y="0" font-family='"Liberation Sans", sans-serif' font-size="29.5" font-weight="bold" text-anchor="middle" fill="#070a0b" textLength="236.5" lengthAdjust="spacingAndGlyphs">Relative expressin</text>
<line x1="120.2" y1="1503.5" x2="120.2" y2="1782.5" stroke="#070a0b" stroke-width="1.9" stroke-linecap="butt"/>
<line x1="111.2" y1="1781.3" x2="120.2" y2="1781.3" stroke="#070a0b" stroke-width="2.4" stroke-linecap="butt"/>
<text x="106.2" y="1789.1" font-family='"Liberation Sans", sans-serif' font-size="22.5" font-weight="bold" font-style="normal" text-anchor="end" fill="#070a0b" >0.00</text>
<line x1="111.2" y1="1711.5" x2="120.2" y2="1711.5" stroke="#070a0b" stroke-width="2.4" stroke-linecap="butt"/>
<text x="106.2" y="1719.3" font-family='"Liberation Sans", sans-serif' font-size="22.5" font-weight="bold" font-style="normal" text-anchor="end" fill="#070a0b" >0.02</text>
<line x1="111.2" y1="1642.5" x2="120.2" y2="1642.5" stroke="#070a0b" stroke-width="2.4" stroke-linecap="butt"/>
<text x="106.2" y="1650.3" font-family='"Liberation Sans", sans-serif' font-size="22.5" font-weight="bold" font-style="normal" text-anchor="end" fill="#070a0b" >0.04</text>
<line x1="111.2" y1="1573.7" x2="120.2" y2="1573.7" stroke="#070a0b" stroke-width="2.4" stroke-linecap="butt"/>
<text x="106.2" y="1581.5" font-family='"Liberation Sans", sans-serif' font-size="22.5" font-weight="bold" font-style="normal" text-anchor="end" fill="#070a0b" >0.06</text>
<line x1="111.2" y1="1504.7" x2="120.2" y2="1504.7" stroke="#070a0b" stroke-width="2.4" stroke-linecap="butt"/>
<text x="106.2" y="1512.5" font-family='"Liberation Sans", sans-serif' font-size="22.5" font-weight="bold" font-style="normal" text-anchor="end" fill="#070a0b" >0.08</text>
<line x1="111" y1="1781.3" x2="572.6" y2="1781.3" stroke="#070a0b" stroke-width="2.4" stroke-linecap="butt"/>
<line x1="160.8" y1="1781.3" x2="160.8" y2="1789.8" stroke="#070a0b" stroke-width="2.4" stroke-linecap="butt"/>
<text x="160.8" y="1811.1" font-family='"Liberation Sans", sans-serif' font-size="21.5" font-weight="bold" font-style="normal" text-anchor="middle" fill="#070a0b" >0</text>
<line x1="252.8" y1="1781.3" x2="252.8" y2="1789.8" stroke="#070a0b" stroke-width="2.4" stroke-linecap="butt"/>
<text x="252.8" y="1811.1" font-family='"Liberation Sans", sans-serif' font-size="21.5" font-weight="bold" font-style="normal" text-anchor="middle" fill="#070a0b" >3</text>
<line x1="345.1" y1="1781.3" x2="345.1" y2="1789.8" stroke="#070a0b" stroke-width="2.4" stroke-linecap="butt"/>
<text x="345.1" y="1811.1" font-family='"Liberation Sans", sans-serif' font-size="21.5" font-weight="bold" font-style="normal" text-anchor="middle" fill="#070a0b" >6</text>
<line x1="437.1" y1="1781.3" x2="437.1" y2="1789.8" stroke="#070a0b" stroke-width="2.4" stroke-linecap="butt"/>
<text x="437.1" y="1811.1" font-family='"Liberation Sans", sans-serif' font-size="21.5" font-weight="bold" font-style="normal" text-anchor="middle" fill="#070a0b" >9</text>
<line x1="530.2" y1="1781.3" x2="530.2" y2="1789.8" stroke="#070a0b" stroke-width="2.4" stroke-linecap="butt"/>
<text x="530.2" y="1811.1" font-family='"Liberation Sans", sans-serif' font-size="21.5" font-weight="bold" font-style="normal" text-anchor="middle" fill="#070a0b" >12</text>
<line x1="143.4" y1="1540.1" x2="143.4" y2="1553" stroke="#070a0b" stroke-width="2.6" stroke-linecap="butt"/>
<line x1="137.4" y1="1540.1" x2="149.4" y2="1540.1" stroke="#070a0b" stroke-width="2.8" stroke-linecap="butt"/>
<rect x="131.90" y="1552.00" width="23.00" height="229.30" fill="#070a0b"/>
<line x1="178.4" y1="1540.1" x2="178.4" y2="1553" stroke="#ef1e26" stroke-width="2.6" stroke-linecap="butt"/>
<line x1="172.4" y1="1540.1" x2="184.4" y2="1540.1" stroke="#ef1e26" stroke-width="2.8" stroke-linecap="butt"/>
<rect x="166.90" y="1552.00" width="23.00" height="229.30" fill="#ef1e26"/>
<line x1="235.8" y1="1688.2" x2="235.8" y2="1704" stroke="#070a0b" stroke-width="2.6" stroke-linecap="butt"/>
<line x1="229.8" y1="1688.2" x2="241.8" y2="1688.2" stroke="#070a0b" stroke-width="2.8" stroke-linecap="butt"/>
<rect x="224.30" y="1703.00" width="23.00" height="78.30" fill="#070a0b"/>
<line x1="270.8" y1="1693.4" x2="270.8" y2="1705.5" stroke="#ef1e26" stroke-width="2.6" stroke-linecap="butt"/>
<line x1="264.8" y1="1693.4" x2="276.8" y2="1693.4" stroke="#ef1e26" stroke-width="2.8" stroke-linecap="butt"/>
<rect x="259.30" y="1704.50" width="23.00" height="76.80" fill="#ef1e26"/>
<line x1="328.0" y1="1689" x2="328.0" y2="1702.2" stroke="#070a0b" stroke-width="2.6" stroke-linecap="butt"/>
<line x1="322.0" y1="1689" x2="334.0" y2="1689" stroke="#070a0b" stroke-width="2.8" stroke-linecap="butt"/>
<rect x="316.50" y="1701.20" width="23.00" height="80.10" fill="#070a0b"/>
<line x1="363.0" y1="1697.3" x2="363.0" y2="1704" stroke="#ef1e26" stroke-width="2.6" stroke-linecap="butt"/>
<line x1="357.0" y1="1697.3" x2="369.0" y2="1697.3" stroke="#ef1e26" stroke-width="2.8" stroke-linecap="butt"/>
<rect x="351.50" y="1703.00" width="23.00" height="78.30" fill="#ef1e26"/>
<line x1="421.05" y1="1727.8" x2="421.05" y2="1734" stroke="#070a0b" stroke-width="2.6" stroke-linecap="butt"/>
<line x1="415.05" y1="1727.8" x2="427.05" y2="1727.8" stroke="#070a0b" stroke-width="2.8" stroke-linecap="butt"/>
<rect x="409.55" y="1733.00" width="23.00" height="48.30" fill="#070a0b"/>
<line x1="456.05" y1="1694.7" x2="456.05" y2="1702.2" stroke="#ef1e26" stroke-width="2.6" stroke-linecap="butt"/>
<line x1="450.05" y1="1694.7" x2="462.05" y2="1694.7" stroke="#ef1e26" stroke-width="2.8" stroke-linecap="butt"/>
<rect x="444.55" y="1701.20" width="23.00" height="80.10" fill="#ef1e26"/>
<line x1="512.8" y1="1690" x2="512.8" y2="1697" stroke="#070a0b" stroke-width="2.6" stroke-linecap="butt"/>
<line x1="506.79999999999995" y1="1690" x2="518.8" y2="1690" stroke="#070a0b" stroke-width="2.8" stroke-linecap="butt"/>
<rect x="501.30" y="1696.00" width="23.00" height="85.30" fill="#070a0b"/>
<line x1="547.8" y1="1686.4" x2="547.8" y2="1697" stroke="#ef1e26" stroke-width="2.6" stroke-linecap="butt"/>
<line x1="541.8" y1="1686.4" x2="553.8" y2="1686.4" stroke="#ef1e26" stroke-width="2.8" stroke-linecap="butt"/>
<rect x="536.30" y="1696.00" width="23.00" height="85.30" fill="#ef1e26"/>
<polygon points="446.65,1680.80 447.77,1683.16 450.36,1683.49 448.46,1685.29 448.94,1687.86 446.65,1686.60 444.36,1687.86 444.84,1685.29 442.94,1683.49 445.53,1683.16" fill="#111" stroke="#111" stroke-width="0.6" stroke-linejoin="round"/>
<polygon points="456.05,1680.80 457.17,1683.16 459.76,1683.49 457.86,1685.29 458.34,1687.86 456.05,1686.60 453.76,1687.86 454.24,1685.29 452.34,1683.49 454.93,1683.16" fill="#111" stroke="#111" stroke-width="0.6" stroke-linejoin="round"/>
<polygon points="465.45,1680.80 466.57,1683.16 469.16,1683.49 467.26,1685.29 467.74,1687.86 465.45,1686.60 463.16,1687.86 463.64,1685.29 461.74,1683.49 464.33,1683.16" fill="#111" stroke="#111" stroke-width="0.6" stroke-linejoin="round"/>
<text x="283.6" y="1520.7" font-family='"Liberation Sans", sans-serif' font-size="28.5" font-weight="normal" font-style="italic" fill="#070a0b" stroke="#070a0b" stroke-width="1.3" textLength="128.5" lengthAdjust="spacingAndGlyphs">AeALDH2</text>
<text transform="translate(25.6 1655.25) rotate(-90)" x="0" y="0" font-family='"Liberation Sans", sans-serif' font-size="29.5" font-weight="bold" text-anchor="middle" fill="#070a0b" textLength="236.4000000000001" lengthAdjust="spacingAndGlyphs">Relative expressin</text>
<line x1="751.1" y1="1500.8999999999999" x2="751.1" y2="1782.5" stroke="#070a0b" stroke-width="3.0" stroke-linecap="butt"/>
<line x1="742.1" y1="1781.3" x2="751.1" y2="1781.3" stroke="#070a0b" stroke-width="3.0" stroke-linecap="butt"/>
<text x="737.1" y="1789.1" font-family='"Liberation Sans", sans-serif' font-size="22.5" font-weight="bold" font-style="normal" text-anchor="end" fill="#070a0b" >0.00</text>
<line x1="742.1" y1="1688.2" x2="751.1" y2="1688.2" stroke="#070a0b" stroke-width="3.0" stroke-linecap="butt"/>
<text x="737.1" y="1696.0" font-family='"Liberation Sans", sans-serif' font-size="22.5" font-weight="bold" font-style="normal" text-anchor="end" fill="#070a0b" >0.05</text>
<line x1="742.1" y1="1595.2" x2="751.1" y2="1595.2" stroke="#070a0b" stroke-width="3.0" stroke-linecap="butt"/>
<text x="737.1" y="1603.0" font-family='"Liberation Sans", sans-serif' font-size="22.5" font-weight="bold" font-style="normal" text-anchor="end" fill="#070a0b" >0.10</text>
<line x1="742.1" y1="1502.1" x2="751.1" y2="1502.1" stroke="#070a0b" stroke-width="3.0" stroke-linecap="butt"/>
<text x="737.1" y="1509.8999999999999" font-family='"Liberation Sans", sans-serif' font-size="22.5" font-weight="bold" font-style="normal" text-anchor="end" fill="#070a0b" >0.15</text>
<line x1="742.1" y1="1781.3" x2="1207.5" y2="1781.3" stroke="#070a0b" stroke-width="3.3" stroke-linecap="butt"/>
<line x1="791.2" y1="1781.3" x2="791.2" y2="1789.8" stroke="#070a0b" stroke-width="3.0" stroke-linecap="butt"/>
<text x="791.2" y="1811.1" font-family='"Liberation Sans", sans-serif' font-size="21.5" font-weight="bold" font-style="normal" text-anchor="middle" fill="#070a0b" >0</text>
<line x1="884.3" y1="1781.3" x2="884.3" y2="1789.8" stroke="#070a0b" stroke-width="3.0" stroke-linecap="butt"/>
<text x="884.3" y="1811.1" font-family='"Liberation Sans", sans-serif' font-size="21.5" font-weight="bold" font-style="normal" text-anchor="middle" fill="#070a0b" >3</text>
<line x1="977.4" y1="1781.3" x2="977.4" y2="1789.8" stroke="#070a0b" stroke-width="3.0" stroke-linecap="butt"/>
<text x="977.4" y="1811.1" font-family='"Liberation Sans", sans-serif' font-size="21.5" font-weight="bold" font-style="normal" text-anchor="middle" fill="#070a0b" >6</text>
<line x1="1070.5" y1="1781.3" x2="1070.5" y2="1789.8" stroke="#070a0b" stroke-width="3.0" stroke-linecap="butt"/>
<text x="1070.5" y="1811.1" font-family='"Liberation Sans", sans-serif' font-size="21.5" font-weight="bold" font-style="normal" text-anchor="middle" fill="#070a0b" >9</text>
<line x1="1163" y1="1781.3" x2="1163" y2="1789.8" stroke="#070a0b" stroke-width="3.0" stroke-linecap="butt"/>
<text x="1163" y="1811.1" font-family='"Liberation Sans", sans-serif' font-size="21.5" font-weight="bold" font-style="normal" text-anchor="middle" fill="#070a0b" >12</text>
<line x1="774.7" y1="1596" x2="774.7" y2="1605.7" stroke="#070a0b" stroke-width="2.6" stroke-linecap="butt"/>
<line x1="768.7" y1="1596" x2="780.7" y2="1596" stroke="#070a0b" stroke-width="2.8" stroke-linecap="butt"/>
<rect x="763.20" y="1604.70" width="23.00" height="176.60" fill="#070a0b"/>
<line x1="809.7" y1="1596" x2="809.7" y2="1605.7" stroke="#ef1e26" stroke-width="2.6" stroke-linecap="butt"/>
<line x1="803.7" y1="1596" x2="815.7" y2="1596" stroke="#ef1e26" stroke-width="2.8" stroke-linecap="butt"/>
<rect x="798.20" y="1604.70" width="23.00" height="176.60" fill="#ef1e26"/>
<line x1="867.8" y1="1705" x2="867.8" y2="1711.2" stroke="#070a0b" stroke-width="2.6" stroke-linecap="butt"/>
<line x1="861.8" y1="1705" x2="873.8" y2="1705" stroke="#070a0b" stroke-width="2.8" stroke-linecap="butt"/>
<rect x="856.30" y="1710.20" width="23.00" height="71.10" fill="#070a0b"/>
<line x1="902.8" y1="1705.5" x2="902.8" y2="1719.5" stroke="#ef1e26" stroke-width="2.6" stroke-linecap="butt"/>
<line x1="896.8" y1="1705.5" x2="908.8" y2="1705.5" stroke="#ef1e26" stroke-width="2.8" stroke-linecap="butt"/>
<rect x="891.30" y="1718.50" width="23.00" height="62.80" fill="#ef1e26"/>
<line x1="960.85" y1="1725.2" x2="960.85" y2="1729.8" stroke="#070a0b" stroke-width="2.6" stroke-linecap="butt"/>
<line x1="954.85" y1="1725.2" x2="966.85" y2="1725.2" stroke="#070a0b" stroke-width="2.8" stroke-linecap="butt"/>
<rect x="949.35" y="1728.80" width="23.00" height="52.50" fill="#070a0b"/>
<line x1="995.85" y1="1725.7" x2="995.85" y2="1729.8" stroke="#ef1e26" stroke-width="2.6" stroke-linecap="butt"/>
<line x1="989.85" y1="1725.7" x2="1001.85" y2="1725.7" stroke="#ef1e26" stroke-width="2.8" stroke-linecap="butt"/>
<rect x="984.35" y="1728.80" width="23.00" height="52.50" fill="#ef1e26"/>
<line x1="1053.9" y1="1735.5" x2="1053.9" y2="1744.3" stroke="#070a0b" stroke-width="2.6" stroke-linecap="butt"/>
<line x1="1047.9" y1="1735.5" x2="1059.9" y2="1735.5" stroke="#070a0b" stroke-width="2.8" stroke-linecap="butt"/>
<rect x="1042.40" y="1743.30" width="23.00" height="38.00" fill="#070a0b"/>
<line x1="1088.9" y1="1735.5" x2="1088.9" y2="1740.2" stroke="#ef1e26" stroke-width="2.6" stroke-linecap="butt"/>
<line x1="1082.9" y1="1735.5" x2="1094.9" y2="1735.5" stroke="#ef1e26" stroke-width="2.8" stroke-linecap="butt"/>
<rect x="1077.40" y="1739.20" width="23.00" height="42.10" fill="#ef1e26"/>
<line x1="1146.45" y1="1725.7" x2="1146.45" y2="1731.9" stroke="#070a0b" stroke-width="2.6" stroke-linecap="butt"/>
<line x1="1140.45" y1="1725.7" x2="1152.45" y2="1725.7" stroke="#070a0b" stroke-width="2.8" stroke-linecap="butt"/>
<rect x="1134.95" y="1730.90" width="23.00" height="50.40" fill="#070a0b"/>
<line x1="1181.45" y1="1728.8" x2="1181.45" y2="1735" stroke="#ef1e26" stroke-width="2.6" stroke-linecap="butt"/>
<line x1="1175.45" y1="1728.8" x2="1187.45" y2="1728.8" stroke="#ef1e26" stroke-width="2.8" stroke-linecap="butt"/>
<rect x="1169.95" y="1734.00" width="23.00" height="47.30" fill="#ef1e26"/>
<text x="922.9" y="1515.6000000000001" font-family='"Liberation Sans", sans-serif' font-size="28.5" font-weight="normal" font-style="italic" fill="#070a0b" stroke="#070a0b" stroke-width="1.3" textLength="112.99999999999989" lengthAdjust="spacingAndGlyphs">AePAO1</text>
<text transform="translate(674.1 1640.4) rotate(-90)" x="0" y="0" font-family='"Liberation Sans", sans-serif' font-size="29.5" font-weight="bold" text-anchor="middle" fill="#070a0b" textLength="237.70000000000005" lengthAdjust="spacingAndGlyphs">Relative expressin</text>
<line x1="120.2" y1="1881.8999999999999" x2="120.2" y2="2163.3999999999996" stroke="#070a0b" stroke-width="1.9" stroke-linecap="butt"/>
<line x1="111.2" y1="2162.2" x2="120.2" y2="2162.2" stroke="#070a0b" stroke-width="2.4" stroke-linecap="butt"/>
<text x="106.2" y="2170.0" font-family='"Liberation Sans", sans-serif' font-size="22.5" font-weight="bold" font-style="normal" text-anchor="end" fill="#070a0b" >0.0000</text>
<line x1="111.2" y1="2068.4" x2="120.2" y2="2068.4" stroke="#070a0b" stroke-width="2.4" stroke-linecap="butt"/>
<text x="106.2" y="2076.2000000000003" font-family='"Liberation Sans", sans-serif' font-size="22.5" font-weight="bold" font-style="normal" text-anchor="end" fill="#070a0b" >0.0002</text>
<line x1="111.2" y1="1976.1" x2="120.2" y2="1976.1" stroke="#070a0b" stroke-width="2.4" stroke-linecap="butt"/>
<text x="106.2" y="1983.8999999999999" font-family='"Liberation Sans", sans-serif' font-size="22.5" font-weight="bold" font-style="normal" text-anchor="end" fill="#070a0b" >0.0004</text>
<line x1="111.2" y1="1883.1" x2="120.2" y2="1883.1" stroke="#070a0b" stroke-width="2.4" stroke-linecap="butt"/>
<text x="106.2" y="1890.8999999999999" font-family='"Liberation Sans", sans-serif' font-size="22.5" font-weight="bold" font-style="normal" text-anchor="end" fill="#070a0b" >0.0006</text>
<line x1="111" y1="2162.2" x2="576" y2="2162.2" stroke="#070a0b" stroke-width="2.4" stroke-linecap="butt"/>
<line x1="160.8" y1="2162.2" x2="160.8" y2="2170.7" stroke="#070a0b" stroke-width="2.4" stroke-linecap="butt"/>
<text x="160.8" y="2192.0" font-family='"Liberation Sans", sans-serif' font-size="21.5" font-weight="bold" font-style="normal" text-anchor="middle" fill="#070a0b" >0</text>
<line x1="253.8" y1="2162.2" x2="253.8" y2="2170.7" stroke="#070a0b" stroke-width="2.4" stroke-linecap="butt"/>
<text x="253.8" y="2192.0" font-family='"Liberation Sans", sans-serif' font-size="21.5" font-weight="bold" font-style="normal" text-anchor="middle" fill="#070a0b" >3</text>
<line x1="346.7" y1="2162.2" x2="346.7" y2="2170.7" stroke="#070a0b" stroke-width="2.4" stroke-linecap="butt"/>
<text x="346.7" y="2192.0" font-family='"Liberation Sans", sans-serif' font-size="21.5" font-weight="bold" font-style="normal" text-anchor="middle" fill="#070a0b" >6</text>
<line x1="439" y1="2162.2" x2="439" y2="2170.7" stroke="#070a0b" stroke-width="2.4" stroke-linecap="butt"/>
<text x="439" y="2192.0" font-family='"Liberation Sans", sans-serif' font-size="21.5" font-weight="bold" font-style="normal" text-anchor="middle" fill="#070a0b" >9</text>
<line x1="532" y1="2162.2" x2="532" y2="2170.7" stroke="#070a0b" stroke-width="2.4" stroke-linecap="butt"/>
<text x="532" y="2192.0" font-family='"Liberation Sans", sans-serif' font-size="21.5" font-weight="bold" font-style="normal" text-anchor="middle" fill="#070a0b" >12</text>
<line x1="143.4" y1="1931.4" x2="143.4" y2="1950.5" stroke="#070a0b" stroke-width="2.6" stroke-linecap="butt"/>
<line x1="137.4" y1="1931.4" x2="149.4" y2="1931.4" stroke="#070a0b" stroke-width="2.8" stroke-linecap="butt"/>
<rect x="131.90" y="1949.50" width="23.00" height="212.70" fill="#070a0b"/>
<line x1="178.4" y1="1931.4" x2="178.4" y2="1950.5" stroke="#ef1e26" stroke-width="2.6" stroke-linecap="butt"/>
<line x1="172.4" y1="1931.4" x2="184.4" y2="1931.4" stroke="#ef1e26" stroke-width="2.8" stroke-linecap="butt"/>
<rect x="166.90" y="1949.50" width="23.00" height="212.70" fill="#ef1e26"/>
<line x1="236.7" y1="2035.6" x2="236.7" y2="2073.3" stroke="#070a0b" stroke-width="2.6" stroke-linecap="butt"/>
<line x1="230.7" y1="2035.6" x2="242.7" y2="2035.6" stroke="#070a0b" stroke-width="2.8" stroke-linecap="butt"/>
<rect x="225.20" y="2072.30" width="23.00" height="89.90" fill="#070a0b"/>
<line x1="271.7" y1="2054.7" x2="271.7" y2="2075.4" stroke="#ef1e26" stroke-width="2.6" stroke-linecap="butt"/>
<line x1="265.7" y1="2054.7" x2="277.7" y2="2054.7" stroke="#ef1e26" stroke-width="2.8" stroke-linecap="butt"/>
<rect x="260.20" y="2074.40" width="23.00" height="87.80" fill="#ef1e26"/>
<line x1="329.7" y1="2108.5" x2="329.7" y2="2119.3" stroke="#070a0b" stroke-width="2.6" stroke-linecap="butt"/>
<line x1="323.7" y1="2108.5" x2="335.7" y2="2108.5" stroke="#070a0b" stroke-width="2.8" stroke-linecap="butt"/>
<rect x="318.20" y="2118.30" width="23.00" height="43.90" fill="#070a0b"/>
<line x1="364.7" y1="2106.4" x2="364.7" y2="2112" stroke="#ef1e26" stroke-width="2.6" stroke-linecap="butt"/>
<line x1="358.7" y1="2106.4" x2="370.7" y2="2106.4" stroke="#ef1e26" stroke-width="2.8" stroke-linecap="butt"/>
<rect x="353.20" y="2111.00" width="23.00" height="51.20" fill="#ef1e26"/>
<line x1="423.0" y1="2151.1" x2="423.0" y2="2153.9" stroke="#070a0b" stroke-width="2.6" stroke-linecap="butt"/>
<line x1="417.0" y1="2151.1" x2="429.0" y2="2151.1" stroke="#070a0b" stroke-width="2.8" stroke-linecap="butt"/>
<rect x="411.50" y="2152.90" width="23.00" height="9.30" fill="#070a0b"/>
<line x1="458.0" y1="2087.3" x2="458.0" y2="2101.2" stroke="#ef1e26" stroke-width="2.6" stroke-linecap="butt"/>
<line x1="452.0" y1="2087.3" x2="464.0" y2="2087.3" stroke="#ef1e26" stroke-width="2.8" stroke-linecap="butt"/>
<rect x="446.50" y="2100.20" width="23.00" height="62.00" fill="#ef1e26"/>
<line x1="516.2" y1="2076.2" x2="516.2" y2="2084.1" stroke="#070a0b" stroke-width="2.6" stroke-linecap="butt"/>
<line x1="510.20000000000005" y1="2076.2" x2="522.2" y2="2076.2" stroke="#070a0b" stroke-width="2.8" stroke-linecap="butt"/>
<rect x="504.70" y="2083.10" width="23.00" height="79.10" fill="#070a0b"/>
<line x1="551.2" y1="2079.5" x2="551.2" y2="2090.9" stroke="#ef1e26" stroke-width="2.6" stroke-linecap="butt"/>
<line x1="545.2" y1="2079.5" x2="557.2" y2="2079.5" stroke="#ef1e26" stroke-width="2.8" stroke-linecap="butt"/>
<rect x="539.70" y="2089.90" width="23.00" height="72.30" fill="#ef1e26"/>
<polygon points="453.30,2071.30 454.42,2073.66 457.01,2073.99 455.11,2075.79 455.59,2078.36 453.30,2077.10 451.01,2078.36 451.49,2075.79 449.59,2073.99 452.18,2073.66" fill="#111" stroke="#111" stroke-width="0.6" stroke-linejoin="round"/>
<polygon points="462.70,2071.30 463.82,2073.66 466.41,2073.99 464.51,2075.79 464.99,2078.36 462.70,2077.10 460.41,2078.36 460.89,2075.79 458.99,2073.99 461.58,2073.66" fill="#111" stroke="#111" stroke-width="0.6" stroke-linejoin="round"/>
<text x="292.6" y="1895.2" font-family='"Liberation Sans", sans-serif' font-size="28.5" font-weight="normal" font-style="italic" fill="#070a0b" stroke="#070a0b" stroke-width="1.3" textLength="113.09999999999997" lengthAdjust="spacingAndGlyphs">AePAO2</text>
<text transform="translate(30.7 2030.25) rotate(-90)" x="0" y="0" font-family='"Liberation Sans", sans-serif' font-size="29.5" font-weight="bold" text-anchor="middle" fill="#070a0b" textLength="236.39999999999986" lengthAdjust="spacingAndGlyphs">Relative expressin</text>
<line x1="750.5" y1="1881.8999999999999" x2="750.5" y2="2163.8999999999996" stroke="#070a0b" stroke-width="3.0" stroke-linecap="butt"/>
<line x1="741.5" y1="2162.7" x2="750.5" y2="2162.7" stroke="#070a0b" stroke-width="3.0" stroke-linecap="butt"/>
<text x="736.5" y="2170.5" font-family='"Liberation Sans", sans-serif' font-size="22.5" font-weight="bold" font-style="normal" text-anchor="end" fill="#070a0b" >0.000</text>
<line x1="741.5" y1="2069.7" x2="750.5" y2="2069.7" stroke="#070a0b" stroke-width="3.0" stroke-linecap="butt"/>
<text x="736.5" y="2077.5" font-family='"Liberation Sans", sans-serif' font-size="22.5" font-weight="bold" font-style="normal" text-anchor="end" fill="#070a0b" >0.005</text>
<line x1="741.5" y1="1976.6" x2="750.5" y2="1976.6" stroke="#070a0b" stroke-width="3.0" stroke-linecap="butt"/>
<text x="736.5" y="1984.3999999999999" font-family='"Liberation Sans", sans-serif' font-size="22.5" font-weight="bold" font-style="normal" text-anchor="end" fill="#070a0b" >0.010</text>
<line x1="741.5" y1="1883.1" x2="750.5" y2="1883.1" stroke="#070a0b" stroke-width="3.0" stroke-linecap="butt"/>
<text x="736.5" y="1890.8999999999999" font-family='"Liberation Sans", sans-serif' font-size="22.5" font-weight="bold" font-style="normal" text-anchor="end" fill="#070a0b" >0.015</text>
<line x1="742" y1="2162.7" x2="1207.5" y2="2162.7" stroke="#070a0b" stroke-width="3.3" stroke-linecap="butt"/>
<line x1="790.6" y1="2162.7" x2="790.6" y2="2171.2" stroke="#070a0b" stroke-width="3.0" stroke-linecap="butt"/>
<text x="790.6" y="2192.5" font-family='"Liberation Sans", sans-serif' font-size="21.5" font-weight="bold" font-style="normal" text-anchor="middle" fill="#070a0b" >0</text>
<line x1="883.6" y1="2162.7" x2="883.6" y2="2171.2" stroke="#070a0b" stroke-width="3.0" stroke-linecap="butt"/>
<text x="883.6" y="2192.5" font-family='"Liberation Sans", sans-serif' font-size="21.5" font-weight="bold" font-style="normal" text-anchor="middle" fill="#070a0b" >3</text>
<line x1="977.4" y1="2162.7" x2="977.4" y2="2171.2" stroke="#070a0b" stroke-width="3.0" stroke-linecap="butt"/>
<text x="977.4" y="2192.5" font-family='"Liberation Sans", sans-serif' font-size="21.5" font-weight="bold" font-style="normal" text-anchor="middle" fill="#070a0b" >6</text>
<line x1="1070.5" y1="2162.7" x2="1070.5" y2="2171.2" stroke="#070a0b" stroke-width="3.0" stroke-linecap="butt"/>
<text x="1070.5" y="2192.5" font-family='"Liberation Sans", sans-serif' font-size="21.5" font-weight="bold" font-style="normal" text-anchor="middle" fill="#070a0b" >9</text>
<line x1="1163" y1="2162.7" x2="1163" y2="2171.2" stroke="#070a0b" stroke-width="3.0" stroke-linecap="butt"/>
<text x="1163" y="2192.5" font-family='"Liberation Sans", sans-serif' font-size="21.5" font-weight="bold" font-style="normal" text-anchor="middle" fill="#070a0b" >12</text>
<line x1="774.75" y1="1916.7" x2="774.75" y2="1939.4" stroke="#070a0b" stroke-width="2.6" stroke-linecap="butt"/>
<line x1="768.75" y1="1916.7" x2="780.75" y2="1916.7" stroke="#070a0b" stroke-width="2.8" stroke-linecap="butt"/>
<rect x="763.25" y="1938.40" width="23.00" height="224.30" fill="#070a0b"/>
<line x1="809.75" y1="1916.7" x2="809.75" y2="1939.4" stroke="#ef1e26" stroke-width="2.6" stroke-linecap="butt"/>
<line x1="803.75" y1="1916.7" x2="815.75" y2="1916.7" stroke="#ef1e26" stroke-width="2.8" stroke-linecap="butt"/>
<rect x="798.25" y="1938.40" width="23.00" height="224.30" fill="#ef1e26"/>
<line x1="867.8" y1="1979.2" x2="867.8" y2="2000.9" stroke="#070a0b" stroke-width="2.6" stroke-linecap="butt"/>
<line x1="861.8" y1="1979.2" x2="873.8" y2="1979.2" stroke="#070a0b" stroke-width="2.8" stroke-linecap="butt"/>
<rect x="856.30" y="1999.90" width="23.00" height="162.80" fill="#070a0b"/>
<line x1="902.8" y1="2021.9" x2="902.8" y2="2036.6" stroke="#ef1e26" stroke-width="2.6" stroke-linecap="butt"/>
<line x1="896.8" y1="2021.9" x2="908.8" y2="2021.9" stroke="#ef1e26" stroke-width="2.8" stroke-linecap="butt"/>
<rect x="891.30" y="2035.60" width="23.00" height="127.10" fill="#ef1e26"/>
<line x1="960.85" y1="2046.4" x2="960.85" y2="2059.1" stroke="#070a0b" stroke-width="2.6" stroke-linecap="butt"/>
<line x1="954.85" y1="2046.4" x2="966.85" y2="2046.4" stroke="#070a0b" stroke-width="2.8" stroke-linecap="butt"/>
<rect x="949.35" y="2058.10" width="23.00" height="104.60" fill="#070a0b"/>
<line x1="995.85" y1="1934.8" x2="995.85" y2="1957" stroke="#ef1e26" stroke-width="2.6" stroke-linecap="butt"/>
<line x1="989.85" y1="1934.8" x2="1001.85" y2="1934.8" stroke="#ef1e26" stroke-width="2.8" stroke-linecap="butt"/>
<rect x="984.35" y="1956.00" width="23.00" height="206.70" fill="#ef1e26"/>
<line x1="1053.9" y1="2086.5" x2="1053.9" y2="2097.8" stroke="#070a0b" stroke-width="2.6" stroke-linecap="butt"/>
<line x1="1047.9" y1="2086.5" x2="1059.9" y2="2086.5" stroke="#070a0b" stroke-width="2.8" stroke-linecap="butt"/>
<rect x="1042.40" y="2096.80" width="23.00" height="65.90" fill="#070a0b"/>
<line x1="1088.9" y1="2004.6" x2="1088.9" y2="2015.1" stroke="#ef1e26" stroke-width="2.6" stroke-linecap="butt"/>
<line x1="1082.9" y1="2004.6" x2="1094.9" y2="2004.6" stroke="#ef1e26" stroke-width="2.8" stroke-linecap="butt"/>
<rect x="1077.40" y="2014.10" width="23.00" height="148.60" fill="#ef1e26"/>
<line x1="1146.95" y1="2076.9" x2="1146.95" y2="2092.7" stroke="#070a0b" stroke-width="2.6" stroke-linecap="butt"/>
<line x1="1140.95" y1="2076.9" x2="1152.95" y2="2076.9" stroke="#070a0b" stroke-width="2.8" stroke-linecap="butt"/>
<rect x="1135.45" y="2091.70" width="23.00" height="71.00" fill="#070a0b"/>
<line x1="1181.95" y1="2036.1" x2="1181.95" y2="2044.9" stroke="#ef1e26" stroke-width="2.6" stroke-linecap="butt"/>
<line x1="1175.95" y1="2036.1" x2="1187.95" y2="2036.1" stroke="#ef1e26" stroke-width="2.8" stroke-linecap="butt"/>
<rect x="1170.45" y="2043.90" width="23.00" height="118.80" fill="#ef1e26"/>
<polygon points="991.15,1918.80 992.27,1921.16 994.86,1921.49 992.96,1923.29 993.44,1925.86 991.15,1924.60 988.86,1925.86 989.34,1923.29 987.44,1921.49 990.03,1921.16" fill="#111" stroke="#111" stroke-width="0.6" stroke-linejoin="round"/>
<polygon points="1000.55,1918.80 1001.67,1921.16 1004.26,1921.49 1002.36,1923.29 1002.84,1925.86 1000.55,1924.60 998.26,1925.86 998.74,1923.29 996.84,1921.49 999.43,1921.16" fill="#111" stroke="#111" stroke-width="0.6" stroke-linejoin="round"/>
<polygon points="1079.50,1988.60 1080.62,1990.96 1083.21,1991.29 1081.31,1993.09 1081.79,1995.66 1079.50,1994.40 1077.21,1995.66 1077.69,1993.09 1075.79,1991.29 1078.38,1990.96" fill="#111" stroke="#111" stroke-width="0.6" stroke-linejoin="round"/>
<polygon points="1088.90,1988.60 1090.02,1990.96 1092.61,1991.29 1090.71,1993.09 1091.19,1995.66 1088.90,1994.40 1086.61,1995.66 1087.09,1993.09 1085.19,1991.29 1087.78,1990.96" fill="#111" stroke="#111" stroke-width="0.6" stroke-linejoin="round"/>
<polygon points="1098.30,1988.60 1099.42,1990.96 1102.01,1991.29 1100.11,1993.09 1100.59,1995.66 1098.30,1994.40 1096.01,1995.66 1096.49,1993.09 1094.59,1991.29 1097.18,1990.96" fill="#111" stroke="#111" stroke-width="0.6" stroke-linejoin="round"/>
<polygon points="1181.95,2020.90 1183.07,2023.26 1185.66,2023.59 1183.76,2025.39 1184.24,2027.96 1181.95,2026.70 1179.66,2027.96 1180.14,2025.39 1178.24,2023.59 1180.83,2023.26" fill="#111" stroke="#111" stroke-width="0.6" stroke-linejoin="round"/>
<text x="922.9" y="1894.4" font-family='"Liberation Sans", sans-serif' font-size="28.5" font-weight="normal" font-style="italic" fill="#070a0b" stroke="#070a0b" stroke-width="1.3" textLength="112.99999999999989" lengthAdjust="spacingAndGlyphs">AePAO3</text>
<text transform="translate(654.6 2018.65) rotate(-90)" x="0" y="0" font-family='"Liberation Sans", sans-serif' font-size="29.5" font-weight="bold" text-anchor="middle" fill="#070a0b" textLength="236.39999999999986" lengthAdjust="spacingAndGlyphs">Relative expressin</text>
<rect x="209.00" y="749.70" width="31.50" height="13.60" fill="#070a0b"/>
<rect x="209.00" y="777.70" width="31.50" height="13.90" fill="#ef1e26"/>
<text x="257.5" y="763.8" font-family='"Liberation Sans", sans-serif' font-size="25" font-weight="normal" font-style="normal" text-anchor="start" fill="#070a0b" >CK</text>
<text x="257.5" y="791.2" font-family='"Liberation Sans", sans-serif' font-size="24.5" font-weight="normal" fill="#070a0b" textLength="106" lengthAdjust="spacingAndGlyphs">Melatonln</text>
<text x="213" y="2230" font-family='"Liberation Sans", sans-serif' font-size="26.5" font-weight="bold" fill="#070a0b" textLength="270" lengthAdjust="spacingAndGlyphs">Storage time (days)</text>
<text x="843.7" y="2235.4" font-family='"Liberation Sans", sans-serif' font-size="26.5" font-weight="bold" fill="#070a0b" textLength="270" lengthAdjust="spacingAndGlyphs">Storage time (days)</text>
</svg>
</div></body></html>
